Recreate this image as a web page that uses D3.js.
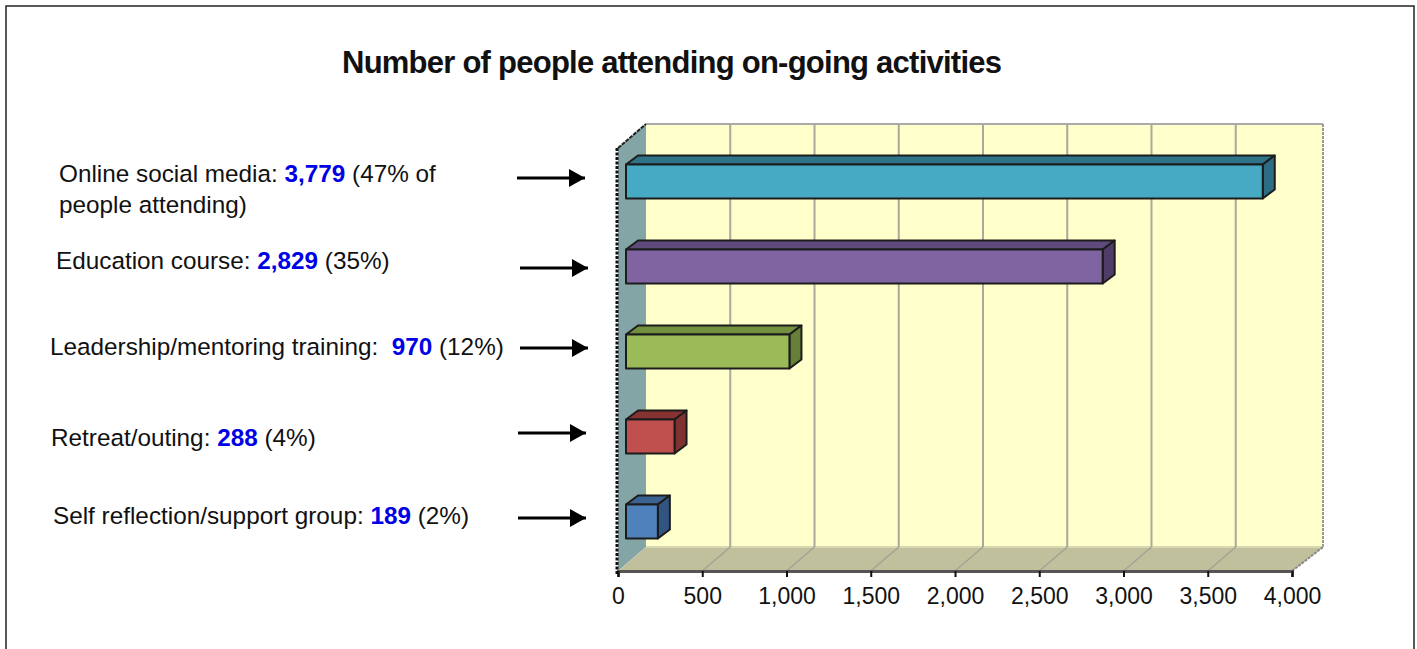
<!DOCTYPE html>
<html>
<head>
<meta charset="utf-8">
<script src="https://cdn.jsdelivr.net/npm/d3@7"></script>
<style>
    html, body { margin: 0; padding: 0; background: #fff; overflow: hidden; }
    text { font-family: "Liberation Sans", Arial, sans-serif; fill: #111; }
</style>
</head>
<body>
<div id="content"></div>
<script>
const title = 'Number of people attending on-going activities';
const categories = ['Online social media', 'Education course', 'Leadership/mentoring training', 'Retreat/outing', 'Self reflection/support group'];
const values = [3779, 2829, 970, 288, 189];
const percents = ['47% of', '35%', '12%', '4%', '2%'];
const separators = [': ', ': ', ':\u00a0\u00a0', ': ', ': '];
const extraLines = ['people attending)', '', '', '', ''];
const tickValues = [0, 500, 1000, 1500, 2000, 2500, 3000, 3500, 4000];
const frontColors = ['#46aac4', '#8064a2', '#9bbb59', '#c0504d', '#4f81bd'];
const topColors = ['#2f7389', '#5f4a7c', '#738f40', '#853230', '#3b6291'];
const sideColors = ['#2c6d84', '#4f3d68', '#66803a', '#7f3331', '#325480'];
const labelX = [59, 56, 50, 51, 53];
const labelY = [182, 269, 355, 446, 524];
const arrowX = [517, 520, 520, 518, 518];
const arrowY = [178, 268, 348, 433, 518];

const width = 1417, height = 649;
const depthX = 28, depthY = 24;      // plot box depth
const barDepthX = 12, barDepthY = 9; // bar depth
const barInset = 8;

const svg = d3.select('#content').append('svg').attr('width', width).attr('height', height).style('display', 'block');

svg.append('rect').attr('x', 6).attr('y', 6).attr('width', 1408).attr('height', 670)
    .attr('fill', '#fff').attr('stroke', '#222').attr('stroke-width', 1.5);

svg.append('text').text(title).attr('x', 342).attr('y', 73)
    .style('font-size', '31px').style('font-weight', 'bold').attr('textLength', 660).attr('lengthAdjust', 'spacing');

const xScale = d3.scaleLinear().domain([0, 4000]).range([618, 1292]);
const yScale = d3.scaleBand().domain(categories).range([139, 564]).paddingInner(0.6).paddingOuter(0.3);

const plotLeft = xScale(0), plotRight = xScale(4000), plotTop = 148, plotBottom = 571;
const pts = a => a.map(p => p.join(',')).join(' ');

// back wall
svg.append('rect').attr('x', plotLeft + depthX).attr('y', plotTop - depthY)
    .attr('width', plotRight - plotLeft + 3).attr('height', plotBottom - plotTop + 1)
    .attr('fill', '#ffffcc');
svg.append('line').attr('x1', plotLeft + depthX).attr('x2', plotRight + depthX + 3).attr('y1', plotTop - depthY).attr('y2', plotTop - depthY)
    .attr('stroke', '#aaa').attr('stroke-width', 2);
svg.append('line').attr('x1', plotRight + depthX + 3).attr('x2', plotRight + depthX + 3).attr('y1', plotTop - depthY).attr('y2', plotBottom - depthY)
    .attr('stroke', '#999').attr('stroke-width', 2).attr('stroke-dasharray', '3 1');

// side wall and floor
svg.append('polygon').attr('points', pts([[plotLeft, plotTop], [plotLeft + depthX, plotTop - depthY], [plotLeft + depthX, plotBottom - depthY], [plotLeft, plotBottom]]))
    .attr('fill', '#84a5a5');
svg.append('polygon').attr('points', pts([[plotLeft, plotBottom], [plotLeft + depthX, plotBottom - depthY], [plotRight + depthX + 3, plotBottom - depthY], [plotRight, plotBottom]]))
    .attr('fill', '#c0c09c');
svg.append('line').attr('x1', plotLeft + depthX).attr('x2', plotRight + depthX + 3).attr('y1', plotBottom - depthY).attr('y2', plotBottom - depthY)
    .attr('stroke', '#d8d8b0').attr('stroke-width', 2);
svg.append('line').attr('x1', plotRight).attr('x2', plotRight + depthX + 3).attr('y1', plotBottom).attr('y2', plotBottom - depthY)
    .attr('stroke', '#888').attr('stroke-width', 2).attr('stroke-dasharray', '3 1');
svg.append('line').attr('x1', plotLeft).attr('x2', plotLeft + depthX).attr('y1', plotTop).attr('y2', plotTop - depthY)
    .attr('stroke', '#222').attr('stroke-width', 2).attr('stroke-dasharray', '4 1');

// gridlines on wall and floor
const grid = svg.append('g').attr('fill', 'none').attr('stroke-width', 2);
grid.selectAll('.wall').data(tickValues.slice(1, -1)).enter().append('line')
    .attr('x1', d => xScale(d) + depthX).attr('x2', d => xScale(d) + depthX)
    .attr('y1', plotTop - depthY).attr('y2', plotBottom - depthY)
    .attr('stroke', '#a9a99c');
grid.selectAll('.floor').data(tickValues.slice(1, -1)).enter().append('line')
    .attr('x1', d => xScale(d)).attr('x2', d => xScale(d) + depthX)
    .attr('y1', plotBottom).attr('y2', plotBottom - depthY)
    .attr('stroke', '#a3a394').attr('stroke-width', 1.5);

// bars
const bars = svg.selectAll('.bar').data(values).enter().append('g').attr('class', 'bar')
    .attr('stroke', '#1c1c1c').attr('stroke-width', 2).attr('stroke-linejoin', 'round');
const bx0 = plotLeft + barInset;
const bx1 = d => xScale(d) + barInset;
const by = (d, i) => yScale(categories[i]);
const bh = yScale.bandwidth();
bars.append('polygon')
    .attr('fill', (d, i) => topColors[i])
    .attr('points', (d, i) => pts([[bx0, by(d, i)], [bx0 + barDepthX, by(d, i) - barDepthY], [bx1(d) + barDepthX, by(d, i) - barDepthY], [bx1(d), by(d, i)]]));
bars.append('polygon')
    .attr('fill', (d, i) => sideColors[i])
    .attr('points', (d, i) => pts([[bx1(d), by(d, i)], [bx1(d) + barDepthX, by(d, i) - barDepthY], [bx1(d) + barDepthX, by(d, i) + bh - barDepthY], [bx1(d), by(d, i) + bh]]));
bars.append('rect')
    .attr('fill', (d, i) => frontColors[i])
    .attr('x', bx0).attr('y', by)
    .attr('width', d => bx1(d) - bx0).attr('height', bh);

// x axis
const xAxis = d3.axisBottom(xScale).tickValues(tickValues).tickFormat(d3.format(',')).tickSize(6).tickPadding(11);
const axisG = svg.append('g').attr('transform', `translate(0,${plotBottom})`).call(xAxis);
axisG.select('.domain').attr('stroke', '#555').attr('stroke-width', 3);
axisG.selectAll('.tick line').attr('stroke', '#111').attr('stroke-width', 2);
axisG.selectAll('.tick text').style('font-size', '23px').style('font-family', '"Liberation Sans", Arial, sans-serif').attr('fill', '#111');

// left axis drawn as tick marks along the side wall
svg.append('line').attr('x1', plotLeft - 1).attr('x2', plotLeft - 1).attr('y1', plotTop).attr('y2', plotBottom + 4)
    .attr('stroke', '#111').attr('stroke-width', 3).attr('stroke-dasharray', '3 1.5');

// labels
const labels = svg.selectAll('.label').data(categories).enter().append('text').attr('class', 'label')
    .attr('x', (d, i) => labelX[i]).attr('y', (d, i) => labelY[i])
    .style('font-size', '24.3px');
labels.append('tspan').text((d, i) => d + separators[i]);
labels.append('tspan').text((d, i) => d3.format(',')(values[i]))
    .style('font-weight', 'bold').style('fill', '#0000e6');
labels.append('tspan').text((d, i) => ' (' + percents[i] + (extraLines[i] ? '' : ')'));
svg.selectAll('.label2').data(extraLines.filter(d => d)).enter().append('text')
    .text(d => d).attr('x', labelX[0]).attr('y', labelY[0] + 31).style('font-size', '24.3px');

// arrows
svg.append('defs').append('marker').attr('id', 'head').attr('markerUnits', 'userSpaceOnUse')
    .attr('viewBox', '0 0 16 18').attr('refX', 16).attr('refY', 9).attr('markerWidth', 16).attr('markerHeight', 18)
    .append('path').attr('d', 'M0,0L16,9L0,18Z').attr('fill', '#000');
svg.selectAll('.arrow').data(arrowY).enter().append('line').attr('class', 'arrow')
    .attr('x1', (d, i) => arrowX[i]).attr('x2', (d, i) => arrowX[i] + 68)
    .attr('y1', d => d).attr('y2', d => d)
    .attr('stroke', '#000').attr('stroke-width', 3).attr('marker-end', 'url(#head)');
</script>
</body>
</html>
